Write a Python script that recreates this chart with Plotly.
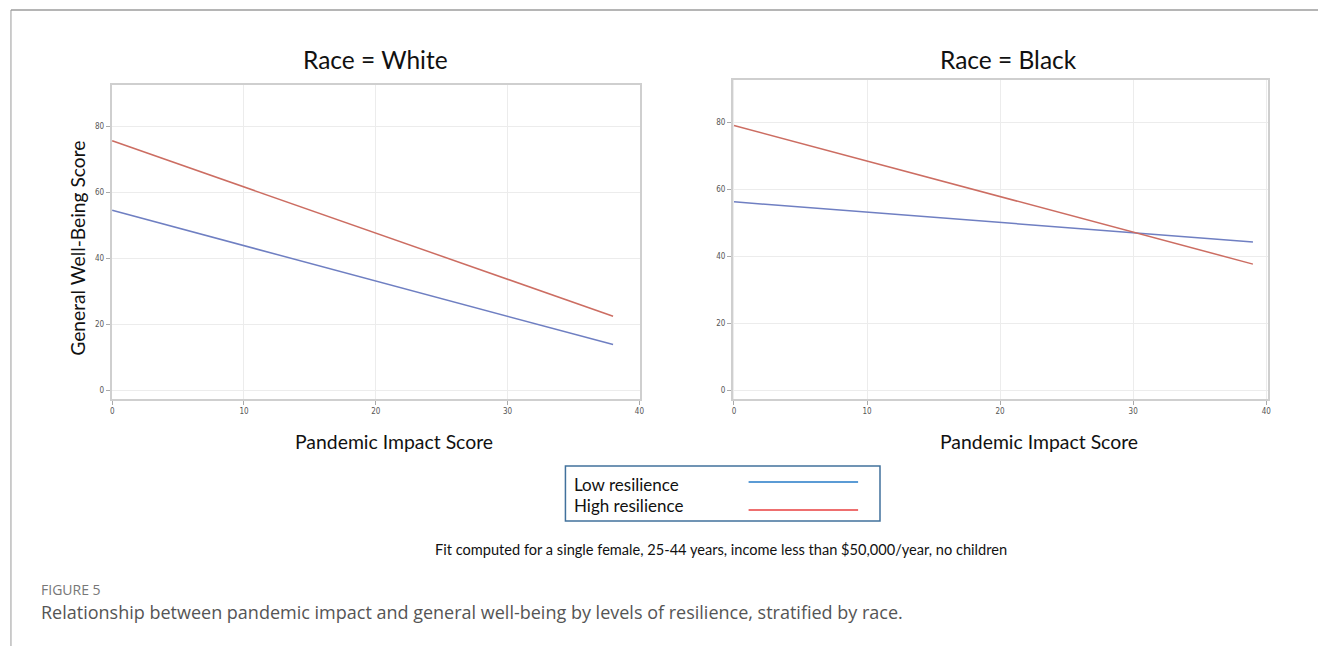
import plotly.graph_objects as go

# Fitted well-being lines at the ends of the observed impact range
white_x = [0, 38]
white_low = [54.6, 13.9]
white_high = [75.7, 22.5]

black_x = [0, 39]
black_low = [56.3, 44.3]
black_high = [79.1, 37.7]

panel_titles = ["Race = White", "Race = Black"]
x_ticks = [0, 10, 20, 30, 40]
y_ticks = [0, 20, 40, 60, 80]

LOW_COLOR = "#6f7fc2"
HIGH_COLOR = "#cc6d62"
W, H = 1322, 646

def fx(px):
    return px / W

def fy(py):
    return 1 - py / H

fig = go.Figure()

fig.add_trace(go.Scatter(x=white_x, y=white_low, mode="lines", line=dict(color=LOW_COLOR, width=1.5),
                         xaxis="x", yaxis="y", showlegend=False))
fig.add_trace(go.Scatter(x=white_x, y=white_high, mode="lines", line=dict(color=HIGH_COLOR, width=1.5),
                         xaxis="x", yaxis="y", showlegend=False))
fig.add_trace(go.Scatter(x=black_x, y=black_low, mode="lines", line=dict(color=LOW_COLOR, width=1.5),
                         xaxis="x2", yaxis="y2", showlegend=False))
fig.add_trace(go.Scatter(x=black_x, y=black_high, mode="lines", line=dict(color=HIGH_COLOR, width=1.5),
                         xaxis="x2", yaxis="y2", showlegend=False))

tick_font = dict(family="DejaVu Sans Condensed", size=8, color="#555555")
axis_common = dict(
    showline=True, linecolor="#cfcfcf", linewidth=1.5, mirror=True,
    showgrid=True, gridcolor="#ececec", gridwidth=1,
    ticks="outside", ticklen=4, tickcolor="#aaaaaa", tickwidth=1,
    tickfont=tick_font, zeroline=False, fixedrange=True,
)

fig.update_layout(
    width=W, height=H,
    margin=dict(l=0, r=0, t=0, b=0),
    paper_bgcolor="white", plot_bgcolor="white",
    xaxis=dict(domain=[fx(110), fx(641)], range=[-0.05, 40.05], tickvals=x_ticks, anchor="y", **axis_common),
    yaxis=dict(domain=[fy(399), fy(85)], range=[-2.6, 92.6], tickvals=y_ticks, anchor="x", **axis_common),
    xaxis2=dict(domain=[fx(734), fx(1272)], range=[-0.1, 40.15], tickvals=x_ticks, anchor="y2", **axis_common),
    yaxis2=dict(domain=[fy(399), fy(80)], range=[-2.6, 92.7], tickvals=y_ticks, anchor="x2", **axis_common),
)

text_font = "Lato"
annotations = [
    dict(text=panel_titles[0], x=fx(375), y=fy(60), font=dict(family=text_font, size=24.5, color="#111111")),
    dict(text=panel_titles[1], x=fx(1011), y=fy(60), font=dict(family=text_font, size=24.5, color="#111111")),
    dict(text="Pandemic Impact Score", x=fx(394), y=fy(441), font=dict(family=text_font, size=19.4, color="#111111")),
    dict(text="Pandemic Impact Score", x=fx(1042), y=fy(441), font=dict(family=text_font, size=19.4, color="#111111")),
    dict(text="General Well-Being Score", x=fx(75), y=fy(248), textangle=-90,
         font=dict(family=text_font, size=19.2, color="#111111")),
    dict(text="Low resilience", x=fx(573), y=fy(484), xanchor="left",
         font=dict(family=text_font, size=17, color="#111111")),
    dict(text="High resilience", x=fx(573), y=fy(505), xanchor="left",
         font=dict(family=text_font, size=17, color="#111111")),
    dict(text="Fit computed for a single female, 25-44 years, income less than $50,000/year, no children",
         x=fx(722), y=fy(549), font=dict(family=text_font, size=14.6, color="#111111")),
    dict(text="FIGURE 5", x=fx(37), y=fy(589), xanchor="left",
         font=dict(family="Open Sans", size=14, color="#777777")),
    dict(text="Relationship between pandemic impact and general well-being by levels of resilience, stratified by race.",
         x=fx(37), y=fy(612), xanchor="left", font=dict(family="Open Sans", size=18, color="#555555")),
]
for a in annotations:
    a.update(xref="paper", yref="paper", showarrow=False, yanchor=a.get("yanchor", "middle"),
             xanchor=a.get("xanchor", "center"))
fig.update_layout(annotations=annotations)

shapes = [
    # page frame
    dict(type="line", x0=fx(9), x1=1, y0=fy(10), y1=fy(10), line=dict(color="#b5b5b5", width=2)),
    dict(type="line", x0=fx(9), x1=fx(9), y0=fy(10), y1=0, line=dict(color="#9a9a9a", width=1)),
    # legend box
    dict(type="rect", x0=fx(566), x1=fx(882), y0=fy(521), y1=fy(466), line=dict(color="#41719c", width=1.5)),
    dict(type="line", x0=fx(750), x1=fx(860), y0=fy(482), y1=fy(482), line=dict(color="#5b9bd5", width=2)),
    dict(type="line", x0=fx(750), x1=fx(860), y0=fy(510), y1=fy(510), line=dict(color="#ee6f6f", width=2)),
]
for s in shapes:
    s.update(xref="paper", yref="paper")
fig.update_layout(shapes=shapes)

fig.write_html("out.html")
